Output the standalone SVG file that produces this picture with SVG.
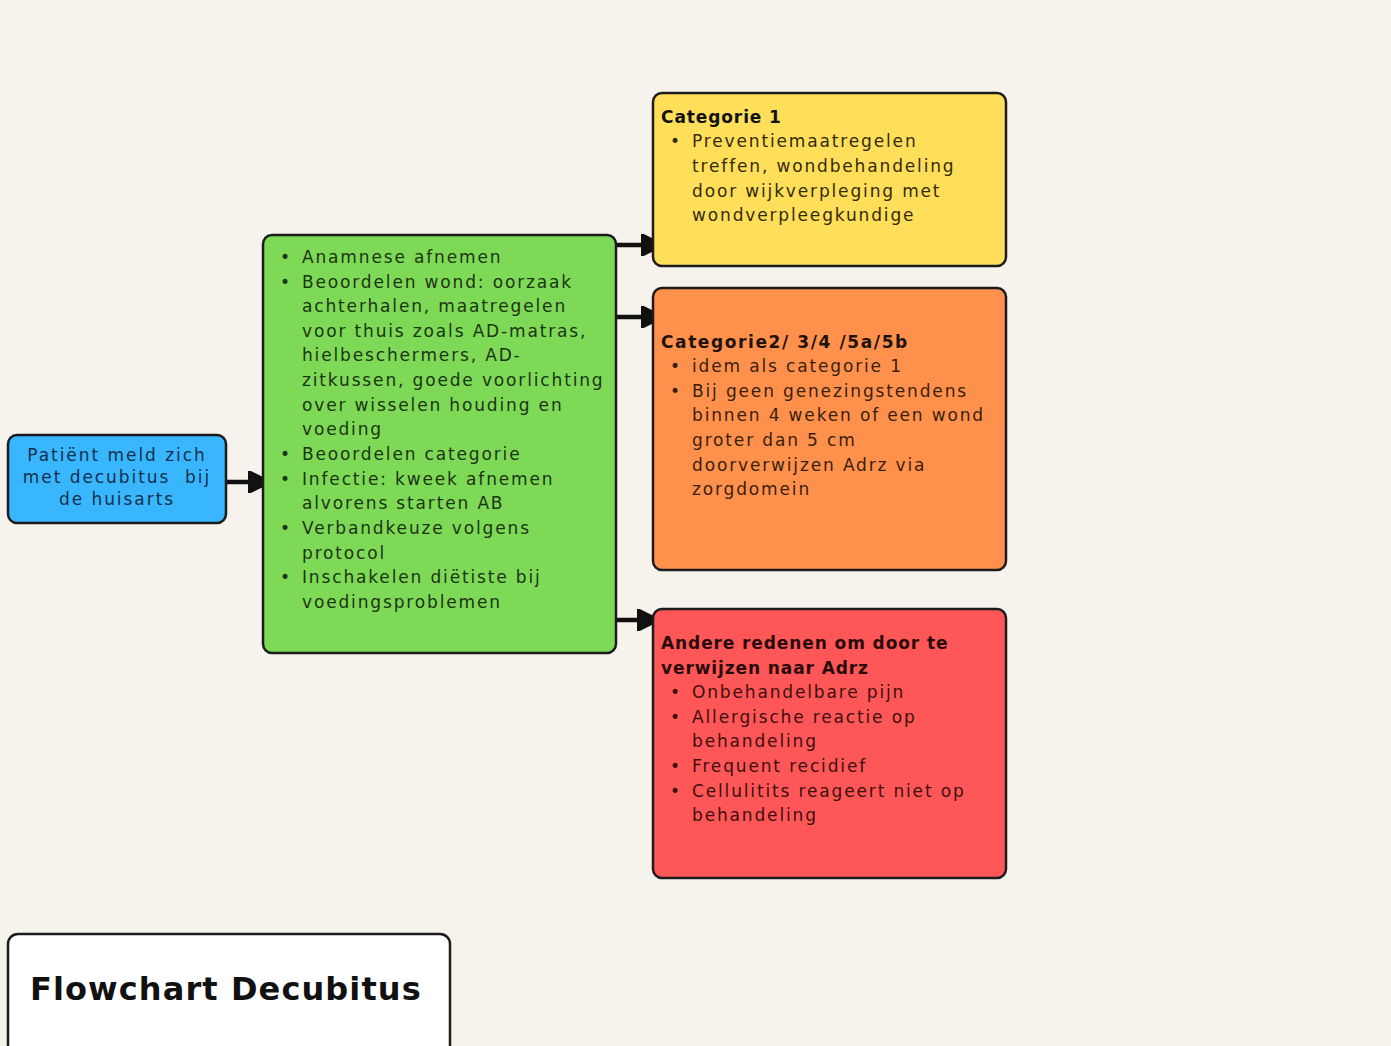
<svg xmlns="http://www.w3.org/2000/svg" width="1391" height="1046" viewBox="0 0 1391 1046">
<defs>
<style>
.box{stroke:#1c1c1c;stroke-width:2.5}
.t{font-family:"DejaVu Sans",sans-serif;font-size:17px;letter-spacing:1.85px}
.b{font-family:"DejaVu Sans",sans-serif;font-size:17px;font-weight:bold;letter-spacing:0.9px}
.conn{stroke:#111;stroke-width:4.5;fill:none}
</style>
<marker id="ah" viewBox="0 0 10 10" refX="9" refY="5" markerWidth="4.8" markerHeight="4.8" orient="auto" markerUnits="strokeWidth">
<path d="M0,0 L10,5 L0,10 Z" fill="#111" stroke="#111" stroke-width="1.5" stroke-linejoin="round"/>
</marker>
</defs>
<rect x="0" y="0" width="1391" height="1046" fill="#f6f2ec"/>
<g id="connectors">
<line class="conn" x1="226" y1="482" x2="267" y2="482" marker-end="url(#ah)"/>
<line class="conn" x1="616" y1="245" x2="660" y2="245" marker-end="url(#ah)"/>
<line class="conn" x1="616" y1="317" x2="660" y2="317" marker-end="url(#ah)"/>
<line class="conn" x1="616" y1="620" x2="656" y2="620" marker-end="url(#ah)"/>
</g>
<g id="start">
<rect class="box" x="8" y="435" width="218" height="88" rx="9" fill="#38b6ff"/>
<g class="t" fill="#14304a" text-anchor="middle" style="letter-spacing:1.95px">
<text x="117" y="461">Patiënt meld zich</text>
<text x="117" y="483">met decubitus&#160; bij</text>
<text x="117" y="505">de huisarts</text>
</g>
</g>
<g id="huisarts">
<rect class="box" x="263" y="235" width="353" height="418" rx="9" fill="#7ed957"/>
<g class="t" fill="#1b3513">
<text x="280" y="263">•</text><text x="302" y="263">Anamnese afnemen</text>
<text x="280" y="288">•</text><text x="302" y="288">Beoordelen wond: oorzaak</text>
<text x="302" y="312">achterhalen, maatregelen</text>
<text x="302" y="337">voor thuis zoals AD-matras,</text>
<text x="302" y="361">hielbeschermers, AD-</text>
<text x="302" y="386">zitkussen, goede voorlichting</text>
<text x="302" y="411">over wisselen houding en</text>
<text x="302" y="435">voeding</text>
<text x="280" y="460">•</text><text x="302" y="460">Beoordelen categorie</text>
<text x="280" y="485">•</text><text x="302" y="485">Infectie: kweek afnemen</text>
<text x="302" y="509">alvorens starten AB</text>
<text x="280" y="534">•</text><text x="302" y="534">Verbandkeuze volgens</text>
<text x="302" y="559">protocol</text>
<text x="280" y="583">•</text><text x="302" y="583">Inschakelen diëtiste bij</text>
<text x="302" y="608">voedingsproblemen</text>
</g>
</g>
<g id="cat1">
<rect class="box" x="653" y="93" width="353" height="173" rx="9" fill="#ffde59"/>
<text class="b" x="661" y="123" fill="#111">Categorie 1</text>
<g class="t" fill="#352b0a">
<text x="670" y="147">•</text><text x="692" y="147">Preventiemaatregelen</text>
<text x="692" y="172">treffen, wondbehandeling</text>
<text x="692" y="197">door wijkverpleging met</text>
<text x="692" y="221">wondverpleegkundige</text>
</g>
</g>
<g id="cat2">
<rect class="box" x="653" y="288" width="353" height="282" rx="9" fill="#ff914d"/>
<text class="b" x="661" y="348" fill="#1e120a" style="letter-spacing:1.6px">Categorie2/ 3/4 /5a/5b</text>
<g class="t" fill="#3a1e0c">
<text x="670" y="372">•</text><text x="692" y="372">idem als categorie 1</text>
<text x="670" y="397">•</text><text x="692" y="397">Bij geen genezingstendens</text>
<text x="692" y="421">binnen 4 weken of een wond</text>
<text x="692" y="446">groter dan 5 cm</text>
<text x="692" y="471">doorverwijzen Adrz via</text>
<text x="692" y="495">zorgdomein</text>
</g>
</g>
<g id="andere">
<rect class="box" x="653" y="609" width="353" height="269" rx="9" fill="#ff5757"/>
<g class="b" fill="#2a0a0a">
<text x="661" y="649">Andere redenen om door te</text>
<text x="661" y="674">verwijzen naar Adrz</text>
</g>
<g class="t" fill="#3d0e0e">
<text x="670" y="698">•</text><text x="692" y="698">Onbehandelbare pijn</text>
<text x="670" y="723">•</text><text x="692" y="723">Allergische reactie op</text>
<text x="692" y="747">behandeling</text>
<text x="670" y="772">•</text><text x="692" y="772">Frequent recidief</text>
<text x="670" y="797">•</text><text x="692" y="797">Cellulitits reageert niet op</text>
<text x="692" y="821">behandeling</text>
</g>
</g>
<g id="title">
<rect class="box" x="8" y="934" width="442" height="125" rx="10" fill="#ffffff"/>
<text x="30" y="1000" font-family="DejaVu Sans,sans-serif" font-size="32" font-weight="bold" letter-spacing="1.1" fill="#111">Flowchart Decubitus</text>
</g>
</svg>
